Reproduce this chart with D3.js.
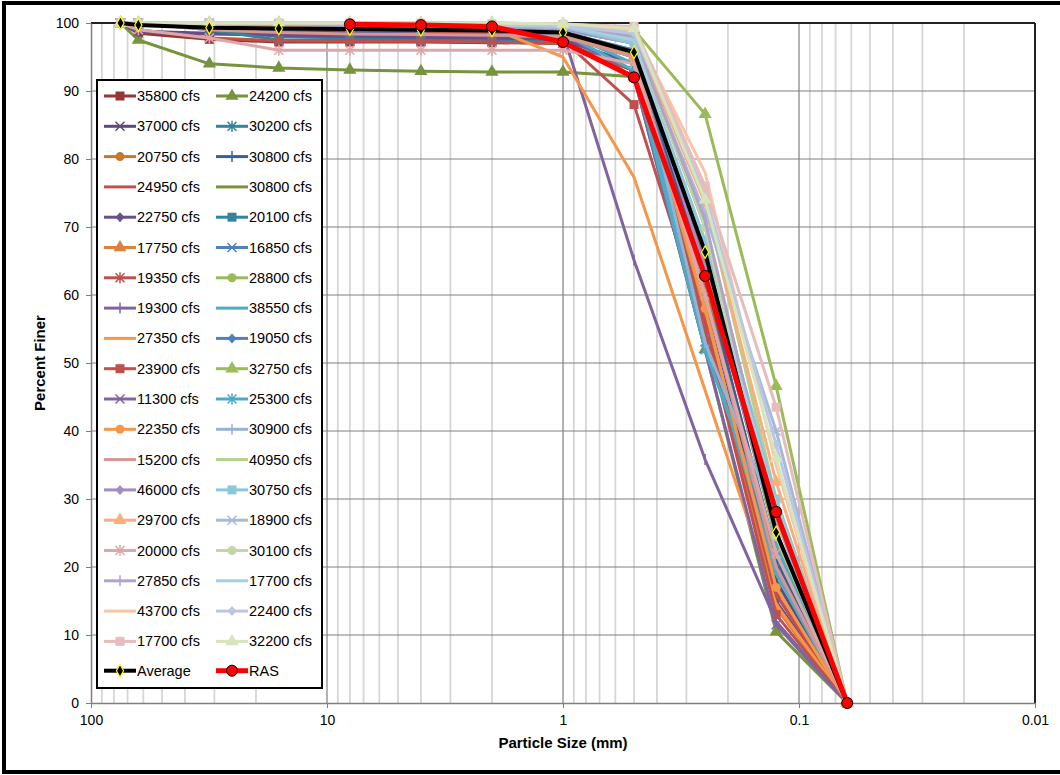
<!DOCTYPE html>
<html>
<head>
<meta charset="utf-8">
<script src="https://cdn.jsdelivr.net/npm/d3@7"></script>
<style>
  body { margin: 0; background: #fff; }
  svg { display: block; font-family: "Liberation Sans", Arial, sans-serif; }
</style>
</head>
<body>
<svg id="chart" width="1060" height="775"></svg>
<script>
// sieve sizes (mm)
const sizes = [75, 63, 31.5, 16, 8, 4, 2, 1, 0.5, 0.25, 0.125, 0.0625];

// series in plotting order (legend is filled row by row, two per row)
const seriesNames = [
  "35800 cfs", "24200 cfs", "37000 cfs", "30200 cfs", "20750 cfs", "30800 cfs",
  "24950 cfs", "30800 cfs", "22750 cfs", "20100 cfs", "17750 cfs", "16850 cfs",
  "19350 cfs", "28800 cfs", "19300 cfs", "38550 cfs", "27350 cfs", "19050 cfs",
  "23900 cfs", "32750 cfs", "11300 cfs", "25300 cfs", "22350 cfs", "30900 cfs",
  "15200 cfs", "40950 cfs", "46000 cfs", "30750 cfs", "29700 cfs", "18900 cfs",
  "20000 cfs", "30100 cfs", "27850 cfs", "17700 cfs", "43700 cfs", "22400 cfs",
  "17700 cfs", "32200 cfs"
];
const seriesColors = [
  "#953735", "#77933C", "#5F497A", "#31859C", "#C8762F", "#376092",
  "#C0504D", "#77933C", "#664F8A", "#31859C", "#E0803A", "#4F81BD",
  "#C0504D", "#9BBB59", "#8064A2", "#4BACC6", "#F79646", "#4F81BD",
  "#C0504D", "#9BBB59", "#8064A2", "#4BACC6", "#F79646", "#95B3D7",
  "#D99594", "#B5D08A", "#A28DBF", "#8CC8DA", "#FAAE7E", "#A7B9DB",
  "#DDA7A7", "#C2D6A8", "#B3A2C7", "#A5D0DF", "#FBC4A4", "#B9C7E2",
  "#E6BCBC", "#D7E4BD"
];
const seriesMarkers = [
  "square", "triangle", "x", "asterisk", "circle", "plus",
  "none", "none", "diamond", "square", "triangle", "x",
  "asterisk", "circle", "plus", "dash", "none", "diamond",
  "square", "triangle", "x", "asterisk", "circle", "plus",
  "none", "none", "diamond", "square", "triangle", "x",
  "asterisk", "circle", "plus", "none", "none", "diamond",
  "square", "triangle"
];
const seriesValues = [
  [100, 98.5, 97.6, 97.2, 97.2, 97.2, 97.1, 97.0, 93, 58, 16, 0],
  [100, 97.5, 94.0, 93.4, 93.1, 92.9, 92.8, 92.8, 92.1, 52, 10.5, 0],
  [100, 98.8, 98.5, 98.3, 98.3, 98.2, 98.2, 98.0, 95, 60, 18, 0],
  [100, 100, 99.2, 98.0, 97.8, 97.7, 97.6, 97.5, 94, 62, 22, 0],
  [100, 100, 99.5, 99.3, 99.2, 99.0, 98.8, 98.5, 96, 62, 20, 0],
  [100, 100, 99.5, 98.8, 98.6, 98.5, 98.4, 98.2, 96, 63, 21, 0],
  [100, 100, 100, 99.5, 99.4, 99.3, 99.2, 99.0, 97, 65, 24, 0],
  [100, 100, 100, 100, 99.8, 99.6, 99.5, 99.3, 98, 70, 28, 0],
  [100, 98.6, 98.4, 98.2, 98.0, 97.9, 97.8, 97.5, 94, 55, 15, 0],
  [100, 100, 99, 97.5, 97.5, 97.4, 97.3, 97.2, 93, 57, 17, 0],
  [100, 100, 100, 99.6, 99.4, 99.2, 99, 98.6, 95, 57, 14, 0],
  [100, 100, 99.6, 99.2, 99, 98.8, 98.6, 98.4, 95, 55, 20, 0],
  [100, 99, 97.8, 97.4, 97.3, 97.3, 97.2, 97.0, 93, 56, 16, 0],
  [100, 100, 100, 99.8, 99.6, 99.4, 99.2, 99, 97, 66, 24, 0],
  [100, 100, 99.8, 99.6, 99.5, 99.3, 99.2, 98.5, 65.1, 35.8, 12, 0],
  [100, 100, 100, 99.7, 99.5, 99.3, 99.1, 98.8, 94, 54, 19, 0],
  [100, 100, 100, 99.8, 99.6, 99.4, 99.2, 95, 77.3, 46, 14.5, 0],
  [100, 100, 99.7, 99.5, 99.3, 99.1, 98.9, 98.7, 96, 60, 22, 0],
  [100, 100, 99.5, 99.2, 99.0, 98.8, 98.6, 97.5, 88, 55, 13, 0],
  [100, 100, 100, 100, 100, 100, 100, 99.8, 99, 86.6, 46.6, 0],
  [100, 100, 99.8, 99.5, 99.3, 99.1, 98.9, 98.5, 92, 52, 11.5, 0],
  [100, 100, 100, 99.6, 99.4, 99.2, 99, 98.5, 93, 52, 23, 0],
  [100, 100, 99.8, 99.6, 99.4, 99.2, 99, 98.5, 95, 58, 17, 0],
  [100, 100, 100, 99.8, 99.6, 99.4, 99.2, 99, 97, 53, 27, 0],
  [100, 100, 99, 98.6, 98.4, 98.3, 98.2, 98, 95, 60, 20, 0],
  [100, 100, 100, 100, 99.8, 99.7, 99.6, 99.5, 98, 74, 30, 0],
  [100, 100, 100, 99.8, 99.6, 99.5, 99.4, 99.2, 97, 64, 25, 0],
  [100, 100, 100, 99.9, 99.8, 99.7, 99.6, 99.4, 97, 68, 30, 0],
  [100, 100, 100, 100, 100, 99.9, 99.8, 99.6, 98.5, 73.5, 32.5, 0],
  [100, 100, 100, 99.8, 99.7, 99.6, 99.5, 99.3, 97.5, 72, 40, 0],
  [100, 99, 97.8, 96, 96, 96, 96, 96, 94, 60, 22, 0],
  [100, 100, 100, 100, 99.9, 99.8, 99.7, 99.5, 98, 70, 24.5, 0],
  [100, 100, 100, 99.9, 99.8, 99.7, 99.6, 99.4, 98, 71, 27, 0],
  [100, 100, 100, 100, 99.9, 99.8, 99.7, 99.5, 97.5, 66, 29, 0],
  [100, 100, 100, 100, 100, 100, 99.9, 99.8, 99, 78, 35, 0],
  [100, 100, 100, 100, 99.9, 99.8, 99.7, 99.6, 98.5, 75, 38, 0],
  [100, 100, 100, 100, 100, 100, 99.9, 99.8, 99.5, 76, 43.5, 0],
  [100, 100, 100, 100, 100, 100, 100, 99.9, 99.2, 74, 36, 0]
];
const averageValues = [100, 99.7, 99.3, 99.2, 99.1, 99.0, 98.9, 98.6, 95.7, 66.3, 25.1, 0];
const rasValues = [null, null, null, null, 99.8, 99.7, 99.5, 97.2, 92, 62.8, 28.1, 0];

const xTicks = [100, 10, 1, 0.1, 0.01];
const xTickLabels = ["100", "10", "1", "0.1", "0.01"];
const yTicks = [0, 10, 20, 30, 40, 50, 60, 70, 80, 90, 100];

const margin = { left: 91, right: 25, top: 23, bottom: 72 };
const W = 1060, H = 775;
const svg = d3.select("#chart");

const x = d3.scaleLog().domain([100, 0.01]).range([margin.left, W - margin.right]);
const y = d3.scaleLinear().domain([0, 100]).range([H - margin.bottom, margin.top]);

// outer frame (right edge falls off the picture)
svg.append("rect")
  .attr("x", 4).attr("y", 3).attr("width", 1070).attr("height", 769)
  .attr("fill", "none").attr("stroke", "#000").attr("stroke-width", 4);

const grid = svg.append("g");
// minor vertical lines
let minor = [];
for (let e = -2; e < 2; e++) {
  for (let m = 2; m <= 9; m++) minor.push(m * Math.pow(10, e));
}
grid.selectAll(".minor").data(minor).join("line")
  .attr("x1", d => x(d)).attr("x2", d => x(d))
  .attr("y1", y(0)).attr("y2", y(100))
  .attr("stroke", "#d6d6d6").attr("stroke-width", 1.8);
grid.selectAll(".vmaj").data(xTicks.slice(1, 4)).join("line")
  .attr("x1", d => x(d)).attr("x2", d => x(d))
  .attr("y1", y(0)).attr("y2", y(100))
  .attr("stroke", "#808080").attr("stroke-width", 1.2);
grid.selectAll(".hmaj").data(yTicks.slice(1, 10)).join("line")
  .attr("x1", x(100)).attr("x2", x(0.01))
  .attr("y1", d => y(d)).attr("y2", d => y(d))
  .attr("stroke", "#808080").attr("stroke-width", 1.2);

// plot border
svg.append("line").attr("x1", x(100)).attr("x2", x(0.01)).attr("y1", y(100)).attr("y2", y(100))
  .attr("stroke", "#222").attr("stroke-width", 2);
svg.append("line").attr("x1", x(0.01)).attr("x2", x(0.01)).attr("y1", y(100)).attr("y2", y(0))
  .attr("stroke", "#222").attr("stroke-width", 2);

// axes
const xAxis = d3.axisBottom(x).tickValues(xTicks).tickFormat((d, i) => xTickLabels[i])
  .tickSizeInner(5).tickSizeOuter(0).tickPadding(7);
const yAxis = d3.axisLeft(y).tickValues(yTicks).tickSizeInner(5).tickSizeOuter(0).tickPadding(7);

const xG = svg.append("g").attr("transform", `translate(0,${y(0)})`).call(xAxis);
const yG = svg.append("g").attr("transform", `translate(${x(100)},0)`).call(yAxis);
[xG, yG].forEach(g => {
  g.select(".domain").attr("stroke", "#808080").attr("stroke-width", 1.5);
  g.selectAll(".tick line").attr("stroke", "#808080");
  g.selectAll(".tick text").attr("fill", "#000").style("font-size", "14px")
    .style("font-family", "'Liberation Sans', Arial, sans-serif");
});

svg.append("text")
  .attr("x", (x(100) + x(0.01)) / 2).attr("y", 748)
  .attr("text-anchor", "middle").style("font-size", "15px").style("font-weight", "bold")
  .text("Particle Size (mm)");
svg.append("text")
  .attr("transform", `translate(45,${(y(0) + y(100)) / 2}) rotate(-90)`)
  .attr("text-anchor", "middle").style("font-size", "15px").style("font-weight", "bold")
  .text("Percent Finer");

// marker drawing
function drawMarker(g, type, color, cx, cy) {
  const s = 4.5;
  if (type === "square") {
    g.append("rect").attr("x", cx - s).attr("y", cy - s).attr("width", 2 * s).attr("height", 2 * s).attr("fill", color);
  } else if (type === "triangle") {
    g.append("path").attr("d", d3.symbol(d3.symbolTriangle, 75)()).attr("transform", `translate(${cx},${cy})`).attr("fill", color);
  } else if (type === "diamond") {
    g.append("path").attr("d", `M${cx},${cy - 5}L${cx + 4.5},${cy}L${cx},${cy + 5}L${cx - 4.5},${cy}Z`).attr("fill", color);
  } else if (type === "circle") {
    g.append("circle").attr("cx", cx).attr("cy", cy).attr("r", 4.5).attr("fill", color);
  } else if (type === "x") {
    g.append("path").attr("d", `M${cx - s},${cy - s}L${cx + s},${cy + s}M${cx - s},${cy + s}L${cx + s},${cy - s}`)
      .attr("stroke", color).attr("stroke-width", 1.5);
  } else if (type === "asterisk") {
    g.append("path").attr("d", `M${cx - s},${cy - s}L${cx + s},${cy + s}M${cx - s},${cy + s}L${cx + s},${cy - s}M${cx},${cy - s - 1}L${cx},${cy + s + 1}`)
      .attr("stroke", color).attr("stroke-width", 1.5);
  } else if (type === "plus") {
    g.append("path").attr("d", `M${cx},${cy - s - 1}L${cx},${cy + s + 1}`)
      .attr("stroke", color).attr("stroke-width", 1.5);
  } else if (type === "dash") {
    g.append("path").attr("d", `M${cx - 4},${cy}L${cx + 4},${cy}`)
      .attr("stroke", color).attr("stroke-width", 2);
  }
}

const line = d3.line()
  .defined(d => d.v != null)
  .x(d => x(d.s)).y(d => y(d.v));
const toPts = vals => sizes.map((s, i) => ({ s: s, v: vals[i] })).filter(d => d.v != null);

const plot = svg.append("g");
seriesValues.forEach((vals, k) => {
  const g = plot.append("g");
  const pts = toPts(vals);
  g.append("path").attr("d", line(pts)).attr("fill", "none")
    .attr("stroke", seriesColors[k]).attr("stroke-width", 3).attr("stroke-linejoin", "round");
  pts.forEach(p => drawMarker(g, seriesMarkers[k], seriesColors[k], x(p.s), y(p.v)));
});

// average
const avgG = plot.append("g");
const avgPts = toPts(averageValues);
avgG.append("path").attr("d", line(avgPts)).attr("fill", "none")
  .attr("stroke", "#000").attr("stroke-width", 4);
avgPts.forEach(p => {
  avgG.append("path").attr("d", d3.symbol(d3.symbolDiamond, 45)())
    .attr("transform", `translate(${x(p.s)},${y(p.v)})`)
    .attr("fill", "#000").attr("stroke", "#ffff00").attr("stroke-width", 1.2);
});

// RAS
const rasG = plot.append("g");
const rasPts = toPts(rasValues);
rasG.append("path").attr("d", line(rasPts)).attr("fill", "none")
  .attr("stroke", "#ff0000").attr("stroke-width", 5);
rasPts.forEach(p => {
  rasG.append("circle").attr("cx", x(p.s)).attr("cy", y(p.v)).attr("r", 5.5)
    .attr("fill", "#ff0000").attr("stroke", "#000").attr("stroke-width", 1);
});

// legend
const leg = svg.append("g");
leg.append("rect").attr("x", 97).attr("y", 80).attr("width", 225).attr("height", 608)
  .attr("fill", "#fff").attr("stroke", "#000").attr("stroke-width", 2);
const rowH = 30.3, row0 = 96;
const colX = [104, 216];
seriesNames.forEach((name, k) => {
  const r = Math.floor(k / 2), c = k % 2;
  const cy = row0 + r * rowH, lx = colX[c];
  leg.append("line").attr("x1", lx).attr("x2", lx + 32).attr("y1", cy).attr("y2", cy)
    .attr("stroke", seriesColors[k]).attr("stroke-width", 3);
  drawMarker(leg, seriesMarkers[k], seriesColors[k], lx + 16, cy);
  leg.append("text").attr("x", lx + 33).attr("y", cy + 5).style("font-size", "14.5px").text(name);
});
const lastY = row0 + 19 * rowH - 1;
leg.append("line").attr("x1", colX[0]).attr("x2", colX[0] + 32).attr("y1", lastY).attr("y2", lastY)
  .attr("stroke", "#000").attr("stroke-width", 4);
leg.append("path").attr("d", d3.symbol(d3.symbolDiamond, 45)())
  .attr("transform", `translate(${colX[0] + 16},${lastY})`)
  .attr("fill", "#000").attr("stroke", "#ffff00").attr("stroke-width", 1.2);
leg.append("text").attr("x", colX[0] + 33).attr("y", lastY + 5).style("font-size", "14.5px").text("Average");
leg.append("line").attr("x1", colX[1]).attr("x2", colX[1] + 32).attr("y1", lastY).attr("y2", lastY)
  .attr("stroke", "#ff0000").attr("stroke-width", 5);
leg.append("circle").attr("cx", colX[1] + 16).attr("cy", lastY).attr("r", 5.5)
  .attr("fill", "#ff0000").attr("stroke", "#000").attr("stroke-width", 1);
leg.append("text").attr("x", colX[1] + 33).attr("y", lastY + 5).style("font-size", "14.5px").text("RAS");
</script>
</body>
</html>
